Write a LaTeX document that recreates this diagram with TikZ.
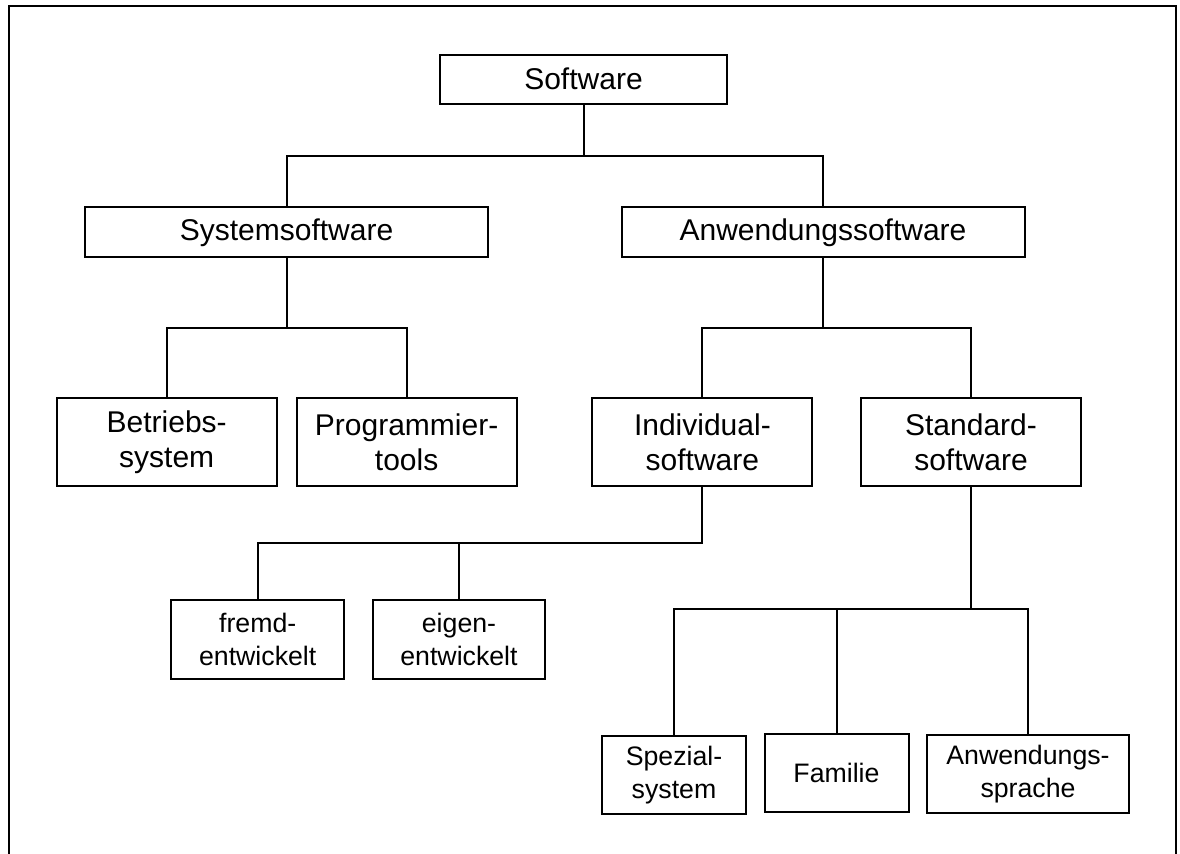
\documentclass[tikz,border=0pt]{standalone}
\usepackage{fontspec}
\setmainfont{Liberation Sans}
\usetikzlibrary{positioning}

\begin{document}
\begin{tikzpicture}[x=0.5pt, y=-0.5pt, line width=1pt,
		box/.style={draw, inner sep=0pt, align=center, font=\fontsize{15}{17.5}\selectfont},
		smallbox/.style={box, minimum height=39.3pt, font=\fontsize{13.35}{16.5}\selectfont}]
	\useasboundingbox (0,0) rectangle (1180,854);
	\draw (8.5,858) -- (8.5,6.5) -- (1175.5,6.5) -- (1175.5,858);
	\node[box, minimum width=143.5pt, minimum height=24.7pt] (sw) at (583.5, 79.3) {Software};
	\node[box, minimum width=201.5pt, minimum height=25pt] (sys) at (286.5, 232.3) {Systemsoftware};
	\node[box, minimum width=201.5pt, minimum height=25pt] (anw) at (823, 232.3) {Anwendungssoftware};
	\node[box, minimum width=110pt, minimum height=43.7pt] (bs) at (166.7, 442) {Betriebs-\\system};
	\node[box, minimum width=110pt, minimum height=43.7pt] (pt) at (406.6, 442) {Programmier-\\tools};
	\node[box, minimum width=110pt, minimum height=43.7pt] (ind) at (702.4, 442) {Individual-\\software};
	\node[box, minimum width=110pt, minimum height=43.7pt] (std) at (971, 442) {Standard-\\software};
	\node[smallbox, minimum width=86.4pt] (fremd) at (257.7, 639.3) {fremd-\\entwickelt};
	\node[smallbox, minimum width=86.4pt] (eigen) at (459, 639.3) {eigen-\\entwickelt};
	\node[smallbox, minimum width=72pt] (spz) at (674, 775) {Spezial-\\system};
	\node[smallbox, minimum width=72pt] (fam) at (836.5, 773) {Familie};
	\node[smallbox, minimum width=100.8pt] (asp) at (1028, 774) {Anwendungs-\\sprache};
	\coordinate (j1) at (583.5, 155.7);
	\coordinate (j2) at (286.5, 328);
	\coordinate (j3) at (823, 328);
	\coordinate (j4) at (702.4, 542.7);
	\coordinate (j5) at (971, 609);
	\draw (sw.south) -- (j1);
	\draw (sys.north) |- (j1) -| (anw.north);
	\draw (sys.south) -- (j2);
	\draw (bs.north) |- (j2) -| (pt.north);
	\draw (anw.south) -- (j3);
	\draw (ind.north) |- (j3) -| (std.north);
	\draw (ind.south) -- (j4) -| (fremd.north);
	\draw (eigen.north) -- (eigen.north |- j4);
	\draw (std.south) -- (j5);
	\draw (spz.north) |- (j5) -| (asp.north);
	\draw (fam.north) -- (fam.north |- j5);
\end{tikzpicture}
\end{document}
